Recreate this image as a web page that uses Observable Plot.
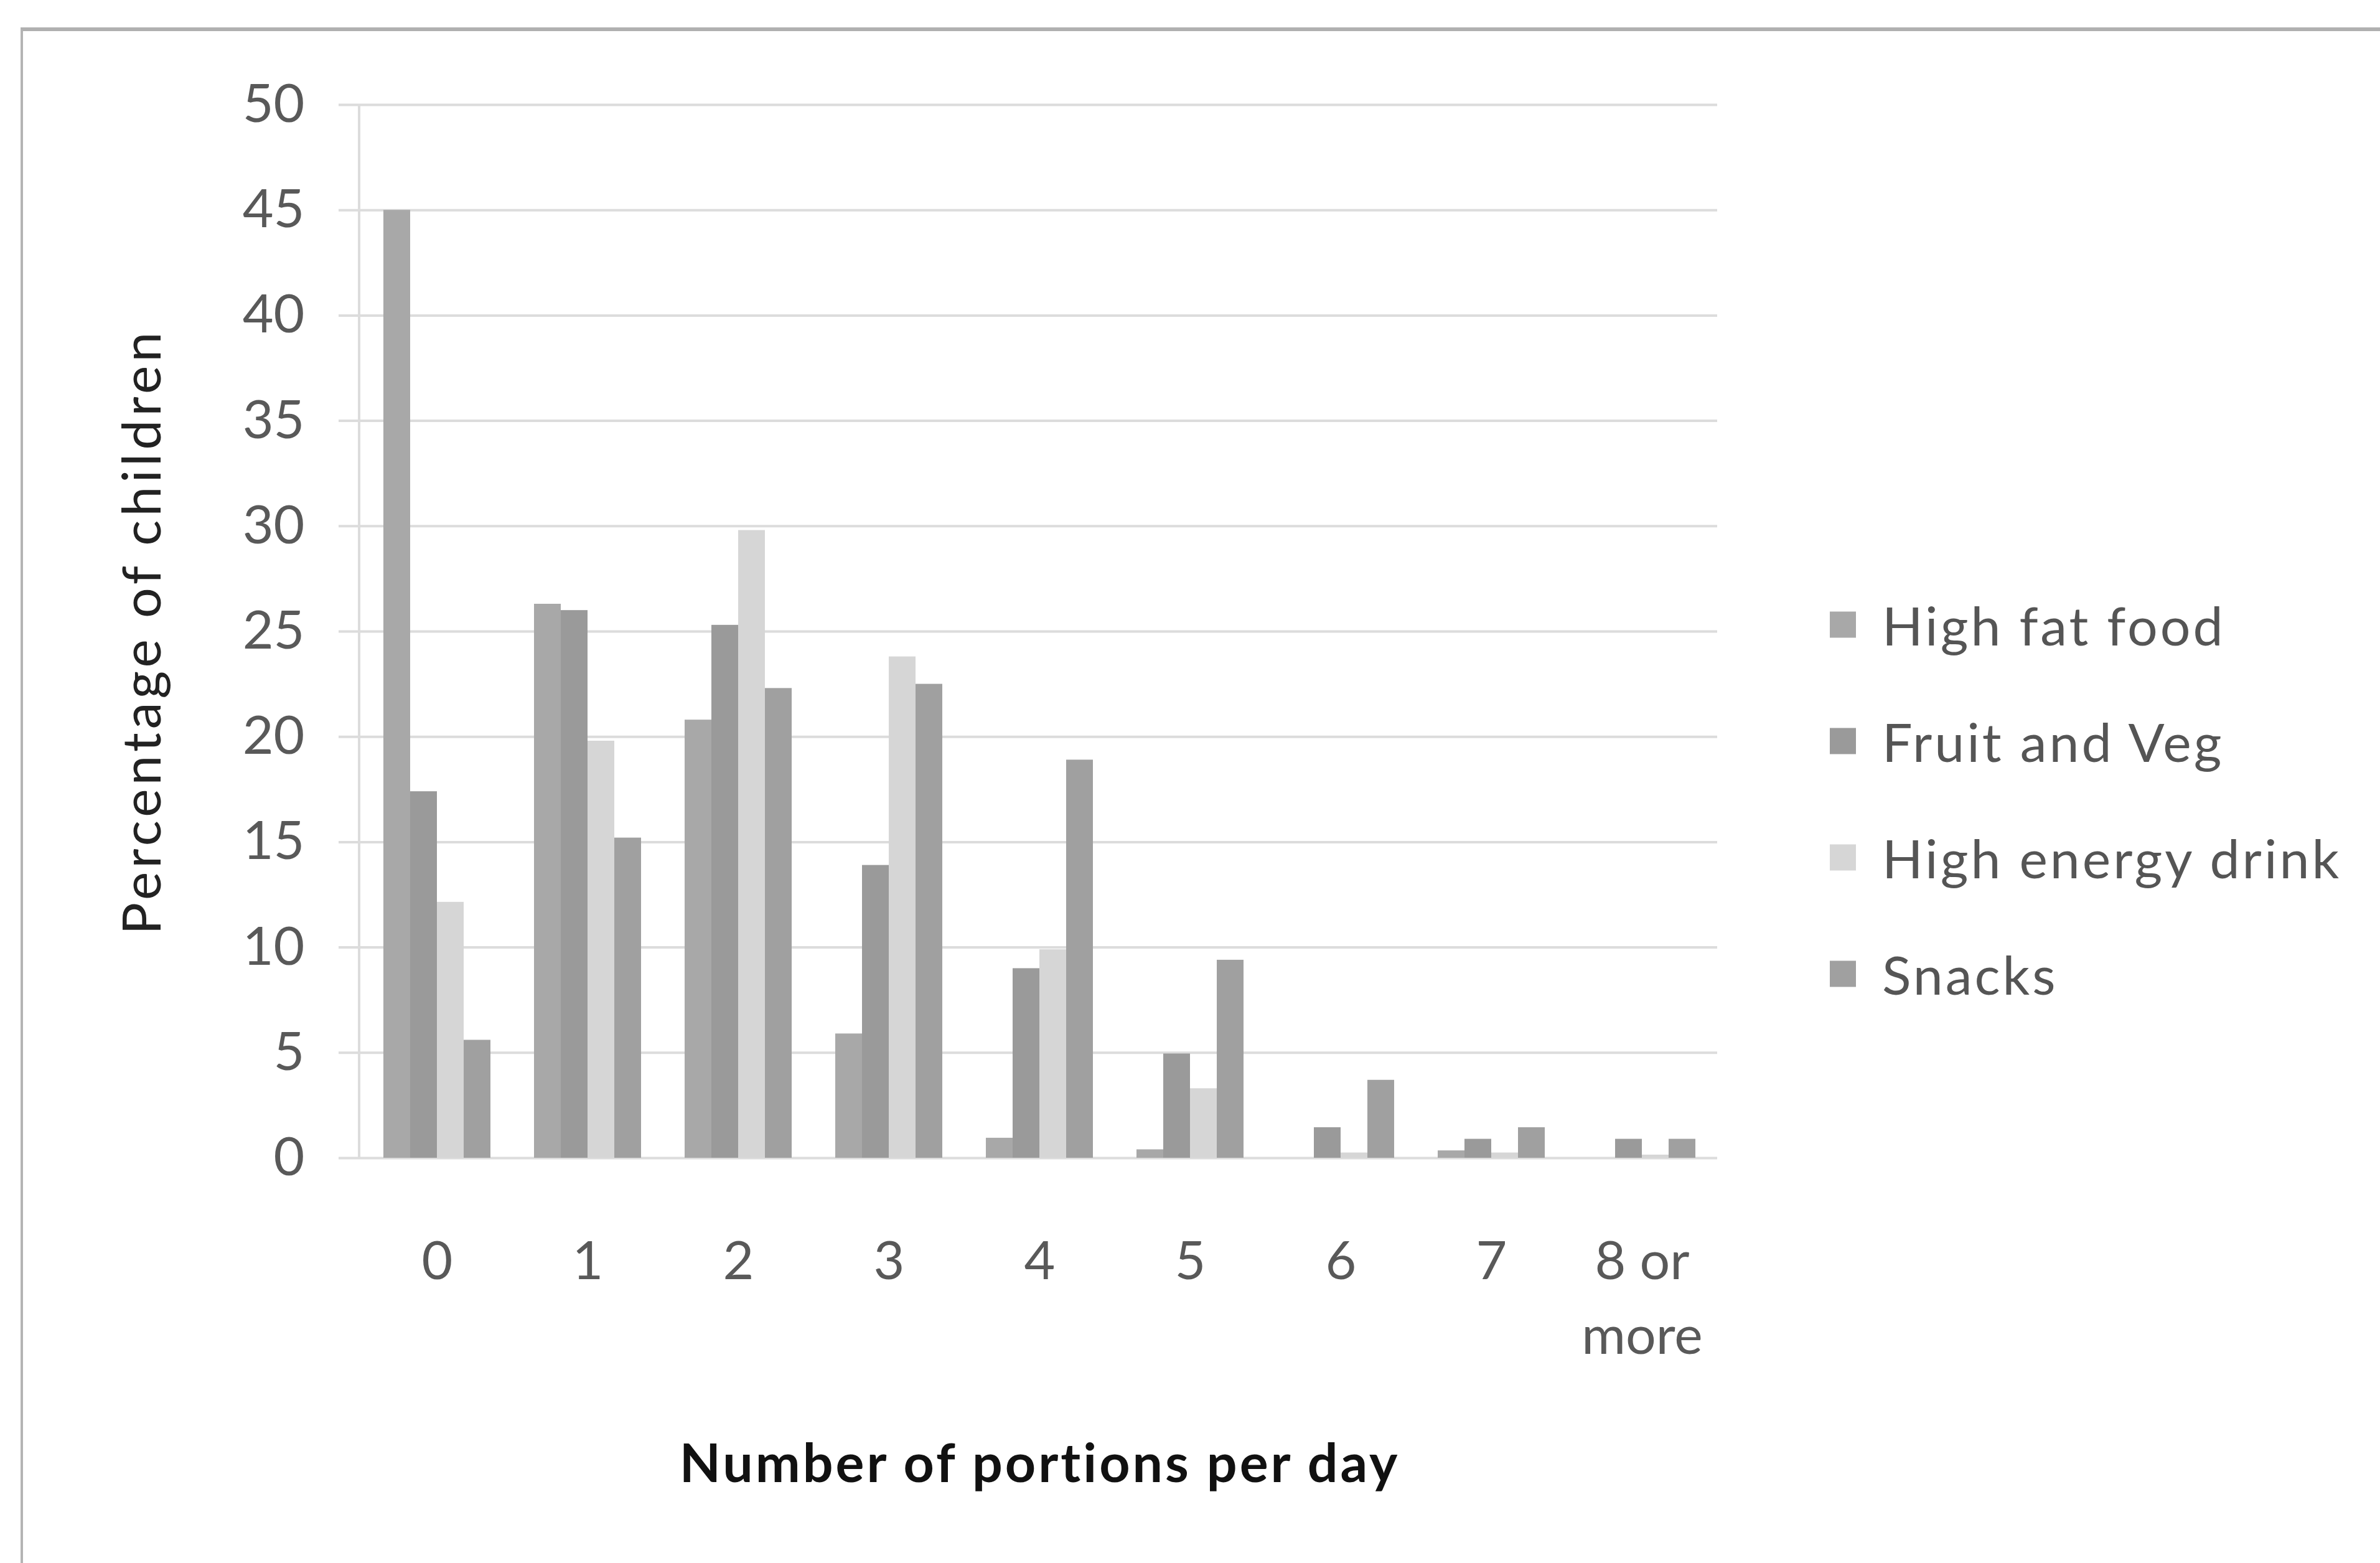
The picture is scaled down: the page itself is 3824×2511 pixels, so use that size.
<!DOCTYPE html>
<html>
<head>
<meta charset="utf-8">
<script src="https://cdn.jsdelivr.net/npm/d3@7"></script>
<script src="https://cdn.jsdelivr.net/npm/@observablehq/plot@0.6"></script>
<style>
  body { margin: 0; background: #fff; }
  #wrap { position: relative; width: 3824px; height: 2511px; overflow: hidden; font-family: Lato, sans-serif; background:#fff; }
  #border { position: absolute; left: 33px; top: 44px; width: 4000px; height: 3000px; border-left: 4px solid #b4b4b4; border-top: 6px solid #b0b0b0; }
  #chart { position: absolute; left: 0; top: 0; }
  #legend { position: absolute; left: 0; top: 0; }
  .item { position: absolute; left: 2940px; display: flex; align-items: center; white-space: nowrap; transform: translateY(-50%); }
  .sw { width: 42px; height: 42px; margin-right: 42px; }
  .lab { font-size: 86px; color: #555; letter-spacing: 4px; }
  svg [aria-label="y-axis tick label"] { fill: #595959; }
  svg [aria-label="fx-axis tick label"] { fill: #595959; }
  svg [aria-label="y-axis label"] { fill: #222; letter-spacing: 6px; }
  svg [aria-label="fx-axis label"] { fill: #111; font-weight: 700; letter-spacing: 4px; }
</style>
</head>
<body>
<div id="wrap">
  <div id="border"></div>
  <div id="chart"></div>
  <div id="legend"></div>
</div>
<script>
// ---- data ----
const categories = ["0", "1", "2", "3", "4", "5", "6", "7", "8 or more"];
const seriesNames = ["High fat food", "Fruit and Veg", "High energy drink", "Snacks"];
const highFatFood      = [45.0, 26.3, 20.8, 5.9, 0.95, 0.4, 0.0, 0.35, 0.0];
const fruitAndVeg      = [17.4, 26.0, 25.3, 13.9, 9.0, 4.95, 1.45, 0.9, 0.9];
const highEnergyDrink  = [12.15, 19.8, 29.8, 23.8, 9.9, 3.3, 0.25, 0.25, 0.15];
const snacks           = [5.6, 15.2, 22.3, 22.5, 18.9, 9.4, 3.7, 1.45, 0.9];
const yTicks = [0, 5, 10, 15, 20, 25, 30, 35, 40, 45, 50];
const seriesColors = ["#a8a8a8", "#9a9a9a", "#d6d6d6", "#a0a0a0"];

const seriesValues = [highFatFood, fruitAndVeg, highEnergyDrink, snacks];
const data = categories.flatMap((c, i) =>
  seriesNames.map((s, j) => ({cat: c, series: s, value: seriesValues[j][i]}))
);

const chart = Plot.plot({
  width: 3824,
  height: 2511,
  marginLeft: 577,
  marginRight: 1061,
  marginTop: 168,
  marginBottom: 651,
  style: {background: "transparent", fontFamily: "Lato, sans-serif", fontSize: "86px", color: "#595959", overflow: "visible"},
  fx: {domain: categories, padding: 0, label: null},
  x: {domain: seriesNames, paddingInner: 0, paddingOuter: 0.76, axis: null},
  y: {domain: [0, 50], label: null},
  color: {domain: seriesNames, range: seriesColors},
  marks: [
    Plot.gridY(yTicks, {stroke: "#dcdcdc", strokeOpacity: 1, strokeWidth: 4}),
    Plot.barY(data, {fx: "cat", x: "series", y: "value", fill: "series"}),
    Plot.axisY(yTicks, {
      tickSize: 37, tickPadding: 55, stroke: "#dcdcdc", strokeWidth: 4, strokeOpacity: 1,
      fill: "#595959", tickFormat: d => String(d),
      label: "Percentage of children", labelAnchor: "center", labelArrow: "none", labelOffset: 385
    }),
    Plot.axisFx({
      anchor: "bottom",
      tickSize: 0, tickPadding: 109, lineHeight: 1.4, fill: "#595959",
      tickFormat: d => d === "8 or more" ? "8 or\nmore" : d,
      label: "Number of portions per day", labelAnchor: "center", labelArrow: "none", labelOffset: 520
    })
  ]
});
document.getElementById("chart").appendChild(chart);

// vertical axis line at the frame's left edge, drawn in the plot's own coordinates
const y = chart.scale("y");
d3.select(chart).append("line")
  .attr("x1", 577).attr("x2", 577)
  .attr("y1", y.apply(50)).attr("y2", y.apply(0))
  .attr("stroke", "#dcdcdc").attr("stroke-width", 4);

// legend
const legend = d3.select("#legend");
seriesNames.forEach((s, i) => {
  const it = legend.append("div").attr("class", "item").style("top", (1003 + i * 187) + "px");
  it.append("div").attr("class", "sw").style("background", seriesColors[i]);
  it.append("div").attr("class", "lab").text(s);
});
</script>
</body>
</html>
